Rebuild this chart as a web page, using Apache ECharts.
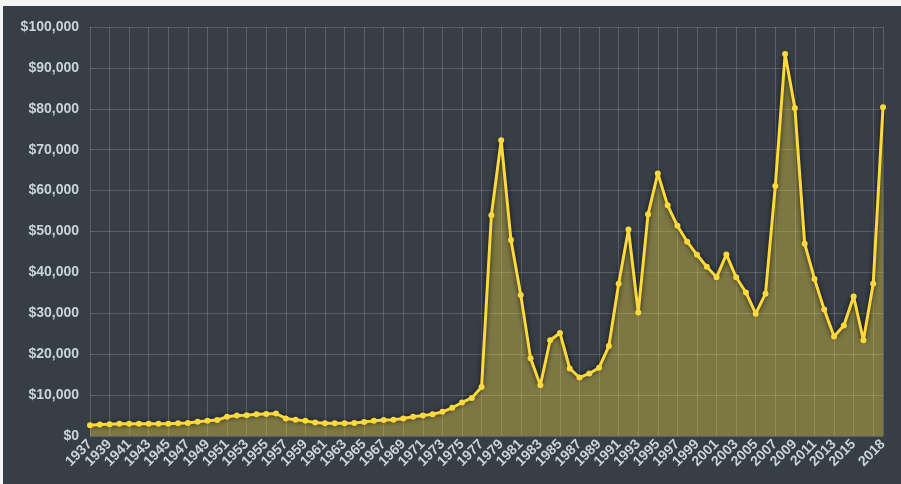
<!DOCTYPE html>
<html lang="en">
	<head>
		<meta charset="UTF-8">
		<title>Price by year</title>
		<script src="https://cdn.jsdelivr.net/npm/echarts@6/dist/echarts.min.js"></script>
		<style>
			html, body {
				margin: 0;
				padding: 0;
				background: #f4f4f4;
			}
			#main {
				position: absolute;
				left: 3px;
				top: 6px;
				width: 898px;
				height: 478px;
				background: #373e46;
			}
		</style>
	</head>

	<body>
		<div id="main"></div>
	</body>

	<script>
		// years 1937 .. 2018
		let years = [];
		for (let y = 1937; y <= 2018; y++) {
			years.push(String(y));
		}

		let prices = [
			2600, 2800, 2900, 3000, 3000, 3000, 3000, 3000, 3000, 3100,   // 1937-1946
			3200, 3500, 3700, 3900, 4700, 5000, 5100, 5300, 5400, 5500,   // 1947-1956
			4300, 4000, 3700, 3300, 3100, 3100, 3100, 3200, 3400, 3700,   // 1957-1966
			3900, 4000, 4300, 4700, 5000, 5300, 5900, 6900, 8200, 9300,   // 1967-1976
			12000, 54000, 72300, 47900, 34500, 19000, 12400, 23400, 25200, 16500, // 1977-1986
			14300, 15300, 16700, 22000, 37200, 50500, 30200, 54200, 64200, 56400, // 1987-1996
			51400, 47500, 44300, 41400, 38800, 44400, 38800, 35100, 29900, 34800, // 1997-2006
			61100, 93400, 80200, 47000, 38400, 30900, 24300, 27000, 34100, 23400, // 2007-2016
			37200, 80400                                                  // 2017-2018
		];

		let yTicks = [0, 10000, 20000, 30000, 40000, 50000, 60000, 70000, 80000, 90000, 100000];

		let lastIndex = years.length - 1;
		let textColor = '#c9d3d9';

		function showLabel(index) {
			return (index % 2 === 0 && index < lastIndex - 1) || index === lastIndex;
		}

		function showGrid(index) {
			return index % 2 === 0 || index === lastIndex;
		}

		function money(v) {
			return '$' + v.toLocaleString('en-US');
		}

		let option = {
			animation: false,
			grid: {
				left: 87,
				right: 18,
				top: 21,
				bottom: 48
			},
			xAxis: {
				type: 'category',
				data: years,
				boundaryGap: false,
				axisLine: { show: false },
				axisTick: { show: false },
				axisLabel: {
					interval: (index) => showLabel(index),
					rotate: 45,
					margin: 6,
					color: textColor,
					fontSize: 14,
					fontWeight: 'bold',
					fontFamily: 'Liberation Sans, Arial, sans-serif'
				},
				splitLine: {
					show: true,
					interval: (index) => showGrid(index),
					lineStyle: { color: 'rgba(255,255,255,0.18)', width: 1 }
				}
			},
			yAxis: {
				type: 'value',
				min: yTicks[0],
				max: yTicks[yTicks.length - 1],
				interval: yTicks[1] - yTicks[0],
				axisLine: { show: false },
				axisTick: { show: false },
				axisLabel: {
					margin: 11,
					color: textColor,
					fontSize: 14,
					fontWeight: 'bold',
					fontFamily: 'Liberation Sans, Arial, sans-serif',
					formatter: money
				},
				splitLine: {
					lineStyle: { color: 'rgba(255,255,255,0.18)', width: 1 }
				}
			},
			series: [{
				type: 'line',
				data: prices,
				symbol: 'circle',
				symbolSize: 6,
				showAllSymbol: true,
				itemStyle: {
					color: '#fcd93c'
				},
				lineStyle: {
					color: '#fcd93c',
					width: 3,
					shadowColor: 'rgba(0,0,0,0.75)',
					shadowBlur: 5
				},
				areaStyle: {
					color: 'rgba(238,212,62,0.55)'
				}
			}]
		};

		let chart = echarts.init(document.getElementById('main'));
		chart.setOption(option);
	</script>
</html>
